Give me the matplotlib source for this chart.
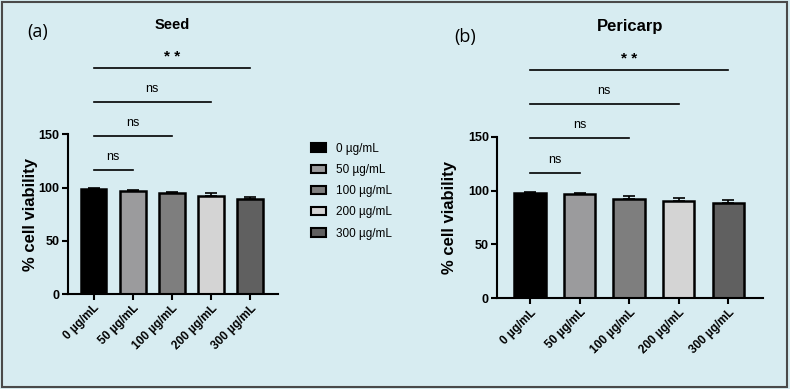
import matplotlib

matplotlib.use("Agg")
import matplotlib.pyplot as plt
from matplotlib.patches import Patch, Rectangle

plt.rcParams["font.family"] = ["Liberation Sans", "DejaVu Sans"]

# data
doses = ["0 µg/mL", "50 µg/mL", "100 µg/mL", "200 µg/mL", "300 µg/mL"]
seed_mean = [98.3, 96.7, 94.5, 92.3, 89.2]
seed_err = [1.2, 1.2, 1.5, 2.3, 1.9]
peri_mean = [98.0, 96.5, 92.1, 90.5, 88.1]
peri_err = [0.9, 1.5, 2.5, 3.0, 3.0]

# comparisons against control: (end group index, label, height)
seed_sig = [(1, "ns", 116.5), (2, "ns", 148.4), (3, "ns", 180.6), (4, "**", 212.6)]
peri_sig = [(1, "ns", 116.5), (2, "ns", 148.4), (3, "ns", 180.0), (4, "**", 211.8)]

bar_colors = ["#000000", "#9b9b9d", "#7e7e7e", "#d4d4d4", "#606060"]
bg = "#d7ecf1"


def draw_panel(ax, means, errs, sigs, width, ylpad):
    x = list(range(len(means)))
    ax.bar(x, means, width=width, color=bar_colors, edgecolor="black",
           linewidth=1.8, zorder=2)
    ax.errorbar(x, means, yerr=[[0] * len(errs), errs], fmt="none",
                ecolor="black", elinewidth=1.2, capsize=4, capthick=1.2, zorder=3)
    ax.set_xlim(-0.66, 4.71)
    ax.set_ylim(0, 150)
    ax.set_yticks([0, 50, 100, 150])
    ax.set_xticks(x)
    ax.set_xticklabels(doses, rotation=45, ha="right", rotation_mode="anchor",
                       fontsize=8.5, fontweight="bold")
    for lab in ax.get_yticklabels():
        lab.set_fontweight("bold")
        lab.set_fontsize(9)
    ax.tick_params(width=1.5, length=4, pad=2)
    ax.set_facecolor("none")
    for s in ["top", "right"]:
        ax.spines[s].set_visible(False)
    for s in ["left", "bottom"]:
        ax.spines[s].set_linewidth(1.5)
    ax.set_ylabel("% cell viability", fontsize=12, fontweight="bold", labelpad=ylpad)

    for end, txt, h in sigs:
        ax.plot([0, end], [h, h], color="black", lw=1.2, clip_on=False)
        if txt == "**":
            ax.annotate("* *", (end / 2, h), xytext=(0, 3), textcoords="offset points",
                        ha="center", va="bottom", fontsize=11, fontweight="bold",
                        annotation_clip=False)
        else:
            ax.annotate(txt, (end / 2, h), xytext=(0, 5), textcoords="offset points",
                        ha="center", va="bottom", fontsize=9, annotation_clip=False)


fig = plt.figure(figsize=(7.9, 3.89), dpi=100, facecolor=bg)

ax1 = fig.add_axes([0.0857, 0.2442, 0.2662, 0.4105])
draw_panel(ax1, seed_mean, seed_err, seed_sig, 0.66, 0)

ax2 = fig.add_axes([0.6295, 0.2332, 0.3367, 0.4154])
draw_panel(ax2, peri_mean, peri_err, peri_sig, 0.63, 8)

fig.text(172 / 790, 1 - 25 / 389, "Seed", ha="center", va="center",
         fontsize=10.5, fontweight="bold")
fig.text(630 / 790, 1 - 26 / 389, "Pericarp", ha="center", va="center",
         fontsize=12, fontweight="bold")
fig.text(38 / 790, 1 - 32 / 389, "(a)", ha="center", va="center",
         fontsize=13, family=["Open Sans", "DejaVu Sans"])
fig.text(465 / 790, 1 - 37 / 389, "(b)", ha="center", va="center",
         fontsize=13, family=["Open Sans", "DejaVu Sans"])

handles = [Patch(facecolor=c, edgecolor="black", linewidth=1.5) for c in bar_colors]
fig.legend(handles, doses, loc="upper left", bbox_to_anchor=(306 / 790, 1 - 138 / 389),
           frameon=False, fontsize=8.5, handlelength=1.3, handleheight=0.7,
           handletextpad=0.8, labelspacing=0.78, borderaxespad=0)

fig.add_artist(Rectangle((0.003, 0.005), 0.993, 0.99, transform=fig.transFigure,
                         fill=False, edgecolor="#4a4a4a", linewidth=1.5))

fig.savefig("out.png", dpi=100, facecolor=bg)
